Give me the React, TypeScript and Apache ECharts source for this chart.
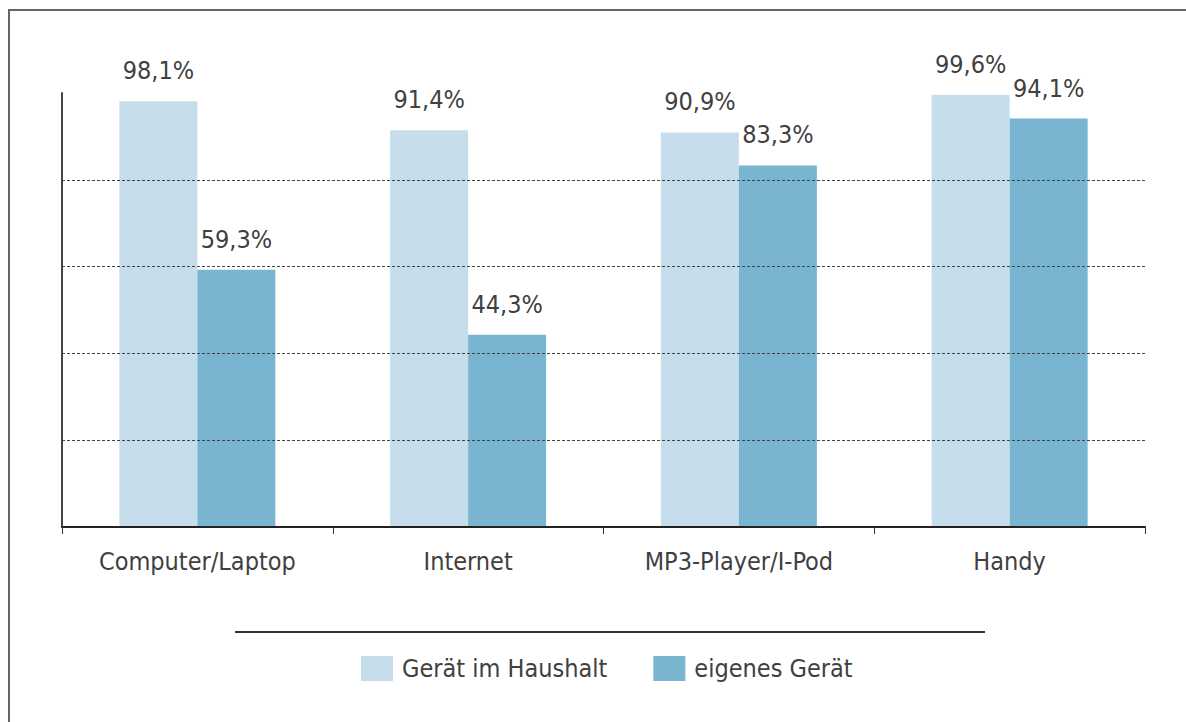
import React, { useEffect, useRef } from "react";
import * as echarts from "echarts";

const categories = ["Computer/Laptop", "Internet", "MP3-Player/I-Pod", "Handy"];
const seriesNames = ["Gerät im Haushalt", "eigenes Gerät"];
const haushaltValues = [98.1, 91.4, 90.9, 99.6];
const eigenesValues = [59.3, 44.3, 83.3, 94.1];
const gridValues = [20, 40, 60, 80];

const FONT = '"DejaVu Sans Condensed", "Liberation Sans Narrow", "Open Sans", sans-serif';
const LIGHT = "#c6deeb";
const DARK = "#79b4d1";
const TEXT = "#404040";

const fmt = (p: any) => Number(p.value).toFixed(1).replace(".", ",") + "%";

export default function App() {
  const ref = useRef<HTMLDivElement>(null);
  useEffect(() => {
    document.body.style.margin = "0";
    if (!ref.current) return;
    const chart = echarts.init(ref.current, null, { renderer: "svg" });
    const labelCfg = {
      show: true,
      position: "top",
      distance: 18,
      fontSize: 25,
      fontFamily: FONT,
      color: TEXT,
      formatter: fmt,
    };
    chart.setOption({
      animation: false,
      backgroundColor: "#ffffff",
      grid: { left: 62, right: 41, top: 93, bottom: 195, containLabel: false },
      xAxis: {
        type: "category",
        data: categories,
        boundaryGap: true,
        axisLine: { show: true, lineStyle: { color: "#222", width: 2 } },
        axisTick: { show: true, length: 7, lineStyle: { color: "#333", width: 1 } },
        axisLabel: { fontSize: 25, fontFamily: FONT, color: TEXT, margin: 22 },
        splitLine: { show: false },
        z: 5,
      },
      yAxis: {
        type: "value",
        min: 0,
        max: 100,
        interval: 20,
        axisLine: { show: true, lineStyle: { color: "#444", width: 2 } },
        axisTick: { show: false },
        axisLabel: { show: false },
        splitLine: { show: false },
      },
      legend: {
        left: 356,
        top: 651,
        itemWidth: 32,
        itemHeight: 25,
        itemGap: 46,
        icon: "rect",
        textStyle: { fontSize: 25, fontFamily: FONT, color: TEXT, padding: [0, 0, 0, 4] },
        data: seriesNames,
      },
      series: [
        {
          type: "line",
          data: [],
          z: 1,
          silent: true,
          markLine: {
            silent: true,
            symbol: "none",
            label: { show: false },
            lineStyle: { type: [3, 2], color: "#444", width: 1 },
            data: gridValues.map((v) => ({ yAxis: v })),
          },
        },
        {
          name: seriesNames[0],
          type: "bar",
          data: haushaltValues,
          barWidth: 78,
          barGap: "0%",
          itemStyle: { color: LIGHT },
          label: labelCfg,
          z: 3,
        },
        {
          name: seriesNames[1],
          type: "bar",
          data: eigenesValues,
          barWidth: 78,
          barGap: "0%",
          itemStyle: { color: DARK },
          label: labelCfg,
          z: 3,
        },
      ],
      graphic: [
        {
          type: "rect",
          shape: { x: 9, y: 10, width: 1300, height: 800 },
          style: { fill: "none", stroke: "#666", lineWidth: 2 },
          silent: true,
        },
        {
          type: "line",
          shape: { x1: 235, y1: 632, x2: 985, y2: 632 },
          style: { stroke: "#333", lineWidth: 2 },
          silent: true,
        },
      ],
    });
    return () => chart.dispose();
  }, []);
  return <div ref={ref} style={{ width: 1186, height: 722 }} />;
}
